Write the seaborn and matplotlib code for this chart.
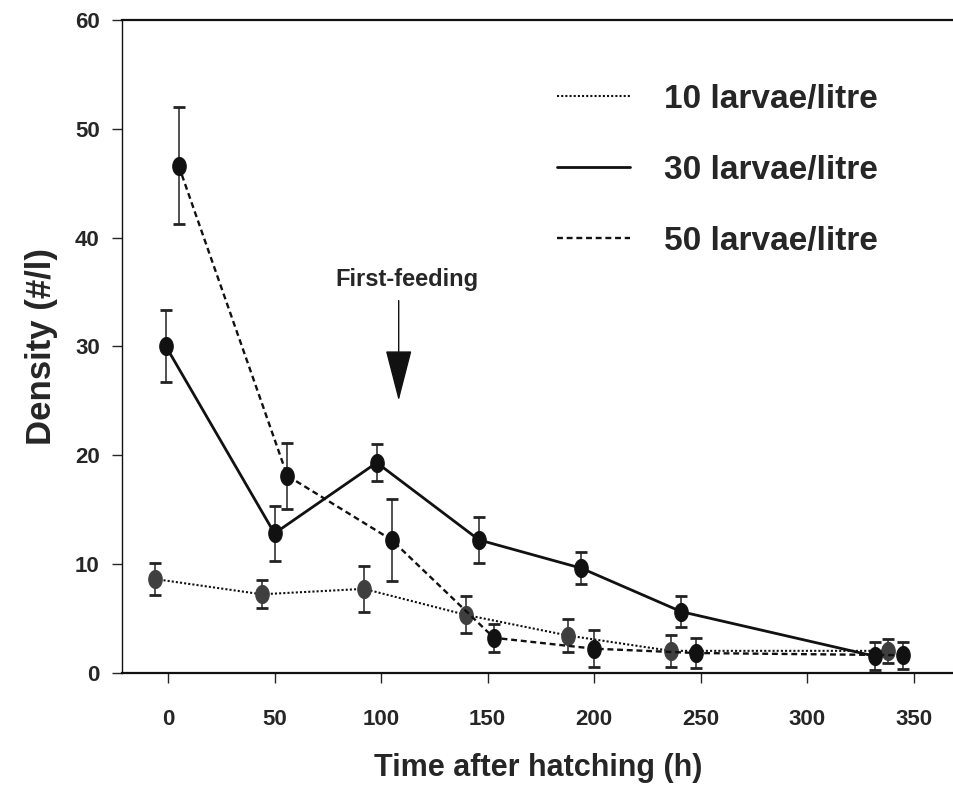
import numpy as np
import pandas as pd
import seaborn as sns
import matplotlib.pyplot as plt
from matplotlib.lines import Line2D

# valores
t10 = [-6, 44, 92, 140, 188, 236, 338]
d10 = [8.6, 7.2, 7.7, 5.3, 3.4, 2.0, 2.0]
e10 = [1.5, 1.3, 2.1, 1.7, 1.5, 1.45, 1.1]

t30 = [-1, 50, 98, 146, 194, 241, 332]
d30 = [30.0, 12.8, 19.3, 12.2, 9.6, 5.6, 1.5]
e30 = [3.3, 2.5, 1.7, 2.1, 1.5, 1.45, 1.3]

t50 = [5, 56, 105, 153, 200, 248, 345]
d50 = [46.6, 18.1, 12.2, 3.2, 2.2, 1.8, 1.6]
e50 = [5.4, 3.05, 3.8, 1.3, 1.7, 1.4, 1.25]

rotulos = ['10 larvae/litre', '30 larvae/litre', '50 larvae/litre']
x_ticks = [0, 50, 100, 150, 200, 250, 300, 350]
y_ticks = [0, 10, 20, 30, 40, 50, 60]

sns.set_theme(style="ticks")
plt.rcParams['font.family'] = ['Liberation Sans', 'DejaVu Sans']
plt.rcParams['font.weight'] = 'bold'

fig = plt.figure(figsize=(9.54, 7.86), dpi=100)
W, H = 954, 786
ax = fig.add_axes([122 / W, 1 - 672.6 / H, (W - 122) / W, (672.6 - 20) / H])

# marcador oval vertical
th = np.linspace(0, 2 * np.pi, 40)
oval = list(zip(0.75 * np.cos(th), np.sin(th)))

series = [
    (t10, d10, e10, '#3f3f3f', (0, (1, 1)), 1.5),
    (t30, d30, e30, '#111111', '-', 2.0),
    (t50, d50, e50, '#111111', (0, (2.5, 1.6)), 1.7),
]

handles = []
for (t, d, e, cor, ls, lw), nome in zip(series, rotulos):
    df = pd.DataFrame({'Tempo': t, 'Densidade': d})
    sns.lineplot(data=df, x='Tempo', y='Densidade', ax=ax, color='#111111',
                 linestyle=ls, linewidth=lw, marker=oval, markersize=13,
                 markerfacecolor=cor, markeredgecolor=cor, zorder=3)
    ax.errorbar(t, d, yerr=e, fmt='none', ecolor='#222222', elinewidth=1.1,
                capsize=4, capthick=2, zorder=2)
    handles.append(Line2D([], [], color='#111111', linestyle=ls, linewidth=lw))

ax.set_xlim(-21.6, 369)
ax.set_ylim(0, 60)
ax.set_xticks(x_ticks)
ax.set_yticks(y_ticks)
ax.tick_params(axis='both', direction='out', length=7, width=1, labelsize=16)
ax.tick_params(axis='x', pad=19)
ax.tick_params(axis='y', pad=9)
for lab in ax.get_xticklabels() + ax.get_yticklabels():
    lab.set_fontweight('bold')

ax.spines['right'].set_visible(False)
ax.spines['top'].set_linewidth(1.6)
ax.spines['bottom'].set_linewidth(1.6)
ax.spines['left'].set_linewidth(1.0)
for s in ax.spines.values():
    s.set_color('#111111')

ax.set_xlabel('Time after hatching (h)', fontsize=22, fontweight='bold', labelpad=17)
ax.set_ylabel('Density (#/l)', fontsize=25, fontweight='bold', labelpad=12)

# seta de primeira alimentação
ax.text(112, 36.1, 'First-feeding', ha='center', va='center', fontsize=17, fontweight='bold')
ax.annotate('', xy=(108.3, 25.0), xytext=(108.3, 34.2),
            arrowprops=dict(arrowstyle='-|>,head_length=3.3,head_width=0.85',
                            mutation_scale=10, lw=1, color='#111111',
                            shrinkA=0, shrinkB=0))

leg = ax.legend(handles, rotulos, loc='upper left', bbox_to_anchor=(557 / W, 1 - 84 / H),
                bbox_transform=fig.transFigure, frameon=False, borderpad=0,
                borderaxespad=0, handlelength=2.2, handletextpad=1.0,
                labelspacing=1.2, prop={'size': 24, 'weight': 'bold'})

fig.savefig('out.png', dpi=100)
